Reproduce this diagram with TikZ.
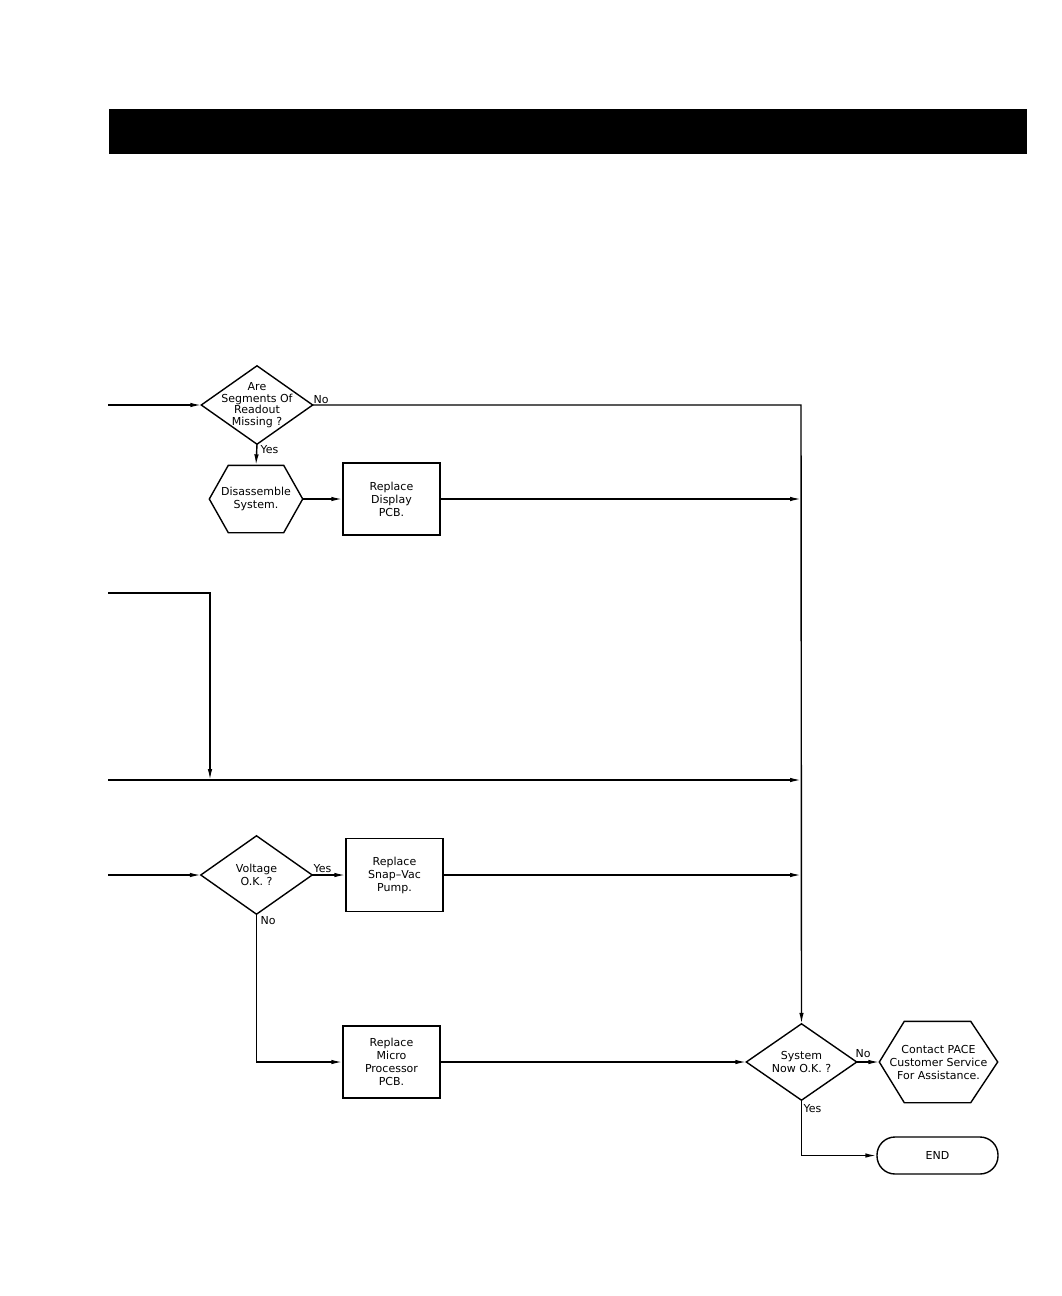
\documentclass[tikz,border=0pt]{standalone}
\usepackage{fontspec}
\setmainfont{DejaVu Sans}
\usetikzlibrary{arrows.meta}
\begin{document}
\begin{tikzpicture}[x=1pt,y=-1pt, line width=1.4pt,
  every node/.style={font=\fontsize{11}{13}\selectfont, align=center, inner sep=0pt},
  arr/.style={-{Latex[length=11pt,width=4.5pt]}},
  boxnode/.style={draw, minimum width=97pt, minimum height=72pt},
  dia/.style={minimum width=110pt, minimum height=77pt},
  lbl/.style={anchor=base west}
]
\useasboundingbox (0,0) rectangle (1062,1296);
% header bar
\node[fill=black, minimum width=918pt, minimum height=45pt, anchor=north west] (bar) at (108,108) {};

% nodes
\node[dia, font=\fontsize{11}{11.7}\selectfont] (d1) at (257,405) {Are\\Segments Of\\Readout\\Missing ?};
\node[minimum width=92pt, minimum height=66pt] (h1) at (256,499) {Disassemble\\System.};
\node[boxnode] (b1) at (391.5,499) {Replace\\Display\\PCB.};
\node[dia] (d2) at (256.5,875) {Voltage\\O.K. ?};
\node[boxnode, minimum height=73pt] (b2) at (394.5,875) {Replace\\Snap--Vac\\Pump.};
\node[boxnode] (b3) at (391.5,1062) {Replace\\Micro\\Processor\\PCB.};
\node[minimum width=109pt, minimum height=75pt] (d3) at (801.5,1062) {System\\Now O.K. ?};
\node[minimum width=117pt, minimum height=80pt] (h2) at (938.5,1062) {Contact PACE\\Customer Service\\For Assistance.};
\node[draw, rounded corners=18pt, minimum width=121pt, minimum height=37pt] (endn) at (937.5,1155.5) {END};

% shape outlines
\draw (d1.west) -- (d1.north) -- (d1.east) -- (d1.south) -- cycle;
\draw (d2.west) -- (d2.north) -- (d2.east) -- (d2.south) -- cycle;
\draw (d3.west) -- (d3.north) -- (d3.east) -- (d3.south) -- cycle;
\draw (h1.west) -- ([xshift=19pt]h1.north west) -- ([xshift=-19pt]h1.north east) -- (h1.east)
  -- ([xshift=-19pt]h1.south east) -- ([xshift=19pt]h1.south west) -- cycle;
\draw (h2.west) -- ([xshift=25pt]h2.north west) -- ([xshift=-27pt]h2.north east) -- (h2.east)
  -- ([xshift=-27pt]h2.south east) -- ([xshift=25pt]h2.south west) -- cycle;

% coordinates
\coordinate (in1) at (108,405);
\coordinate (n1) at (801,405);
\coordinate (j1) at (801,499);
\coordinate (in2) at (108,593);
\coordinate (c2) at (210,593);
\coordinate (c3) at (210,780);
\coordinate (in3) at (108,780);
\coordinate (j3) at (801,780);
\coordinate (in4) at (108,875);
\coordinate (j4) at (801,875);

% connectors
\draw[arr] (in1) -- (d1.west);
\draw[arr] (d1.east) -- (n1) -- (d3.north);
\draw[arr] (d1.south) -- (h1.north);
\draw[arr] (h1.east) -- (b1.west);
\draw[arr] (b1.east) -- (j1);
\draw[arr] (in2) -- (c2) -- (c3);
\draw[arr] (in3) -- (j3);
\draw[arr] (in4) -- (d2.west);
\draw[arr] (d2.east) -- (b2.west);
\draw[arr] (b2.east) -- (j4);
\draw[arr] (d2.south) |- (b3.west);
\draw[arr] (b3.east) -- (d3.west);
\draw[arr] (d3.east) -- (h2.west);
\draw[arr] (d3.south) |- (endn.west);

% labels
\node[lbl] (no1) at (313,403) {No};
\node[lbl] (yes1) at (260,453) {Yes};
\node[lbl] (yes2) at (313,872) {Yes};
\node[lbl] (no2) at (260,924) {No};
\node[lbl] (no3) at (855,1057) {No};
\node[lbl] (yes3) at (803,1112) {Yes};
\end{tikzpicture}
\end{document}
